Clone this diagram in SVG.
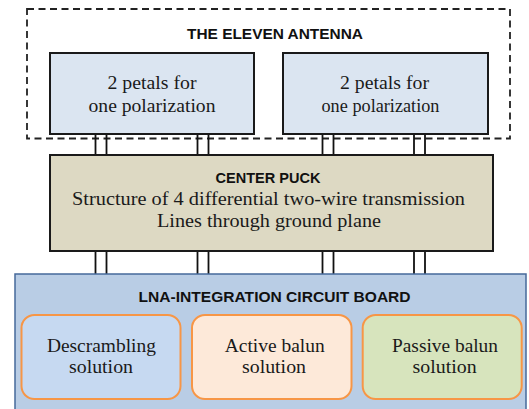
<svg xmlns="http://www.w3.org/2000/svg" width="529" height="409" viewBox="0 0 529 409">
<style>
.bg{fill:#ffffff}
.dash{fill:none;stroke:#222;stroke-width:1.8;stroke-dasharray:7,4.5}
.petal{fill:#dbe5f1;stroke:#1a1a1a;stroke-width:2}
.puck{fill:#ddd9c3;stroke:#1a1a1a;stroke-width:2}
.board{fill:#b9cde5;stroke:#46699a;stroke-width:1.5}
.sol{stroke:#f79646;stroke-width:2}
.wire{stroke:#111;stroke-width:1.8;fill:none}
.h{font-family:"Liberation Sans",Arial,sans-serif;font-weight:bold;font-size:15px;fill:#111;text-anchor:middle}
.t{font-family:"Liberation Serif","Times New Roman",serif;font-size:18px;fill:#1a1a1a;text-anchor:middle}
</style>
<rect class="bg" x="0" y="0" width="529" height="409"/>
<g id="antenna">
<rect class="dash" x="27" y="9" width="483" height="129.5"/>
<text class="h" x="275" y="38.5" textLength="176" lengthAdjust="spacingAndGlyphs">THE ELEVEN ANTENNA</text>
</g>
<g id="connectors">
<line class="wire" x1="95.5" y1="134" x2="95.5" y2="155"/>
<line class="wire" x1="106.5" y1="134" x2="106.5" y2="155"/>
<line class="wire" x1="197.5" y1="134" x2="197.5" y2="155"/>
<line class="wire" x1="208.5" y1="134" x2="208.5" y2="155"/>
<line class="wire" x1="322.5" y1="134" x2="322.5" y2="155"/>
<line class="wire" x1="333.5" y1="134" x2="333.5" y2="155"/>
<line class="wire" x1="414" y1="134" x2="414" y2="155"/>
<line class="wire" x1="425" y1="134" x2="425" y2="155"/>
<line class="wire" x1="95.5" y1="251" x2="95.5" y2="274"/>
<line class="wire" x1="106.5" y1="251" x2="106.5" y2="274"/>
<line class="wire" x1="197.5" y1="251" x2="197.5" y2="274"/>
<line class="wire" x1="208.5" y1="251" x2="208.5" y2="274"/>
<line class="wire" x1="322.5" y1="251" x2="322.5" y2="274"/>
<line class="wire" x1="333.5" y1="251" x2="333.5" y2="274"/>
<line class="wire" x1="414" y1="251" x2="414" y2="274"/>
<line class="wire" x1="425" y1="251" x2="425" y2="274"/>
</g>
<g id="petal-left">
<rect class="petal" x="50" y="53" width="204" height="81"/>
<text class="t" x="152" y="88.5" textLength="89" lengthAdjust="spacingAndGlyphs">2 petals for</text>
<text class="t" x="152" y="111.5" textLength="127" lengthAdjust="spacingAndGlyphs">one polarization</text>
</g>
<g id="petal-right">
<rect class="petal" x="283" y="53" width="205" height="81"/>
<text class="t" x="384.5" y="88.5" textLength="89" lengthAdjust="spacingAndGlyphs">2 petals for</text>
<text class="t" x="380.5" y="111.5" textLength="118" lengthAdjust="spacingAndGlyphs">one polarization</text>
</g>
<g id="center-puck">
<rect class="puck" x="50" y="155" width="443" height="96"/>
<text class="h" x="268" y="182.5" textLength="105" lengthAdjust="spacingAndGlyphs">CENTER PUCK</text>
<text class="t" x="268.5" y="204.5" textLength="393" lengthAdjust="spacingAndGlyphs">Structure of 4 differential two-wire transmission</text>
<text class="t" x="269" y="227" textLength="224" lengthAdjust="spacingAndGlyphs">Lines through ground plane</text>
</g>
<g id="board">
<rect class="board" x="15" y="274" width="511" height="150"/>
<text class="h" x="274.6" y="301.5" textLength="272" lengthAdjust="spacingAndGlyphs">LNA-INTEGRATION CIRCUIT BOARD</text>
</g>
<g id="descrambling">
<rect class="sol" fill="#c6d9f1" x="21.5" y="315" width="159" height="84" rx="13"/>
<text class="t" x="101.4" y="352" textLength="109" lengthAdjust="spacingAndGlyphs">Descrambling</text>
<text class="t" x="101" y="373" textLength="64" lengthAdjust="spacingAndGlyphs">solution</text>
</g>
<g id="active-balun">
<rect class="sol" fill="#fde9d9" x="192" y="315" width="159.5" height="84" rx="13"/>
<text class="t" x="274.7" y="352" textLength="100" lengthAdjust="spacingAndGlyphs">Active balun</text>
<text class="t" x="274" y="373" textLength="64" lengthAdjust="spacingAndGlyphs">solution</text>
</g>
<g id="passive-balun">
<rect class="sol" fill="#d7e4bd" x="362.7" y="315" width="159" height="84" rx="13"/>
<text class="t" x="445" y="352" textLength="106" lengthAdjust="spacingAndGlyphs">Passive balun</text>
<text class="t" x="444.6" y="373" textLength="64" lengthAdjust="spacingAndGlyphs">solution</text>
</g>
</svg>
